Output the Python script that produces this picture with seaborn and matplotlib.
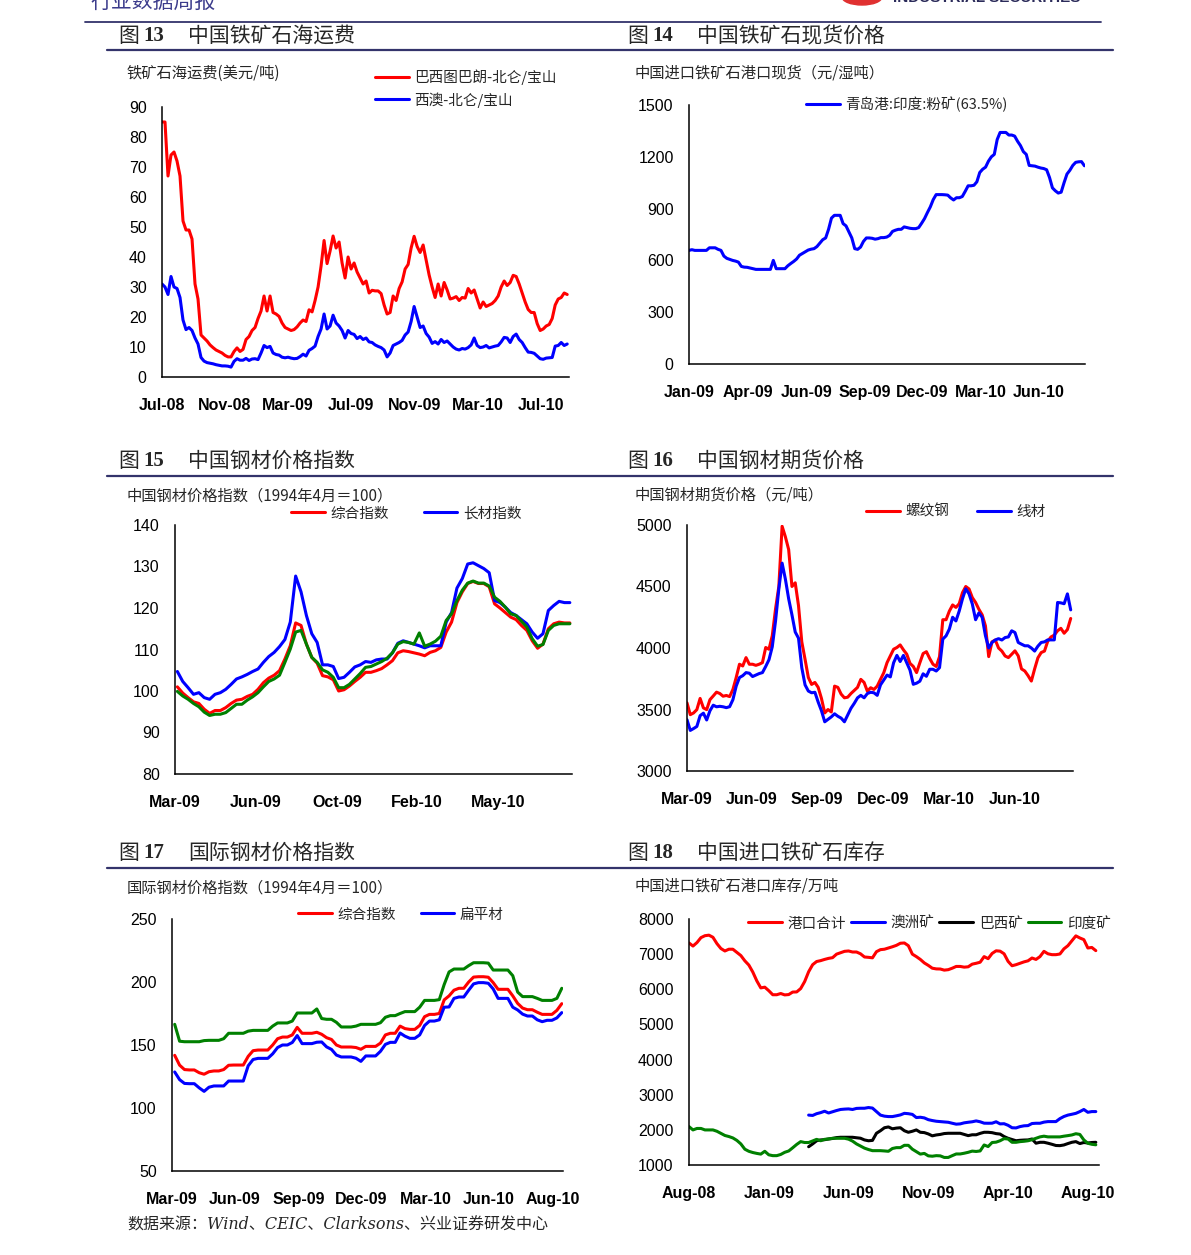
import numpy as np
import matplotlib
matplotlib.use("Agg")
import matplotlib.pyplot as plt
from matplotlib.lines import Line2D
from matplotlib.patches import Ellipse
import seaborn as sns

# ---------------- data ----------------
# fig 13: iron ore freight, USD/t
freight_brazil = [85, 85, 67, 74, 75, 72, 67, 52, 49, 49,
                  46, 31, 26, 14, 13, 12, 10.7, 9.8, 9, 8.5,
                  8, 7.2, 6.7, 6.7, 8.5, 9.7, 8.5, 9.2, 12.5, 13.5,
                  15.5, 16.5, 19.5, 22, 27, 22, 27, 21.5, 21, 20.2,
                  18, 16.5, 16, 15.5, 15.8, 16.7, 18, 19, 18.5, 22.4,
                  21.7, 25.5, 30, 37, 45.5, 37.8, 42, 47, 43, 45,
                  38, 33, 40, 36, 38, 35, 33, 31, 32, 28,
                  28.9, 28.7, 28.7, 27.8, 24, 21, 21.5, 27, 25.5, 29.5,
                  31.7, 36, 37.5, 43, 46.9, 43.5, 41.5, 44, 39, 34,
                  30, 26.5, 31, 27, 31.5, 29, 26, 26.3, 26.8, 25.5,
                  26.5, 26.3, 29.5, 28, 29, 26, 23, 25, 23.5, 24,
                  24.5, 25.5, 27, 30, 32, 30.5, 31.5, 33.9, 33.5, 31,
                  28, 25, 22.5, 21.5, 21.5, 17.8, 15.5, 16, 17, 17.5,
                  19.5, 24, 26, 26.5, 28, 27.5]
freight_wa = [31, 30, 27.5, 33.5, 30, 29.5, 26.5, 19, 15.8, 16.5,
              15.5, 13, 11, 6.5, 5.3, 4.8, 4.6, 4.4, 4.1, 3.9,
              3.7, 3.7, 3.6, 3.3, 5.2, 6.1, 5.6, 5.6, 6.2, 5.5,
              6, 6.1, 5.8, 8, 10.5, 9.8, 10.2, 8, 7.5, 7.3,
              6.6, 6.4, 6.6, 6.3, 6.1, 6.2, 6.8, 7.6, 7, 8.9,
              9.5, 10.3, 13.5, 16, 21, 16, 17, 20.6, 18, 17,
              15.5, 13, 15.5, 14.5, 14.2, 12.8, 13.5, 12.5, 13, 11.7,
              11.5, 10.7, 10.2, 9.8, 9, 6.7, 8, 10.5, 11, 11.5,
              12.2, 14, 15, 18.5, 23.5, 20, 16.5, 17, 14.5, 13.3,
              11.2, 11.8, 11, 12.5, 11.5, 12, 11, 10, 9.3, 9,
              9.5, 9.3, 9.8, 10.7, 13, 10.5, 9.8, 10, 10.5, 9.7,
              10, 10.3, 10.5, 11.7, 13.2, 13, 11.5, 13.5, 14.3, 12.5,
              11.5, 9.8, 8.3, 8.2, 7.9, 7, 6.1, 5.9, 6.3, 6.4,
              6.5, 10.3, 10.5, 11.5, 10.5, 11]
freight_ticks = [0, 20.9, 42, 63.1, 84, 105.1, 126.2]
freight_labels = ["Jul-08", "Nov-08", "Mar-09", "Jul-09", "Nov-09", "Mar-10", "Jul-10"]

# fig 14: Qingdao port, Indian fines 63.5%, yuan/wet t
spot_india = [658, 662, 658, 658, 658, 658, 658, 673, 673, 673,
              664, 658, 625, 612, 606, 600, 596, 590, 565, 561,
              560, 556, 552, 548, 548, 548, 548, 548, 548, 600,
              552, 552, 552, 552, 569, 582, 594, 608, 630, 640,
              650, 660, 665, 668, 680, 700, 720, 730, 780, 845,
              861, 861, 861, 813, 800, 765, 730, 668, 664, 677,
              710, 730, 730, 728, 723, 726, 732, 732, 735, 745,
              768, 775, 780, 780, 794, 790, 786, 784, 784, 790,
              815, 842, 877, 910, 952, 981, 981, 981, 980, 978,
              962, 950, 963, 963, 970, 1000, 1032, 1032, 1035, 1055,
              1109, 1128, 1140, 1175, 1200, 1214, 1300, 1341, 1341, 1341,
              1326, 1326, 1320, 1290, 1265, 1230, 1214, 1150, 1148, 1146,
              1140, 1135, 1132, 1125, 1080, 1020, 1003, 990, 995, 1050,
              1100, 1122, 1150, 1168, 1171, 1172, 1148]
spot_ticks = [0, 20.3, 40.3, 60.3, 80.3, 100.2, 120.3]
spot_labels = ["Jan-09", "Apr-09", "Jun-09", "Sep-09", "Dec-09", "Mar-10", "Jun-10"]

# fig 15: China steel price index
cn_composite = [101, 99.5, 98.4, 97.4, 97, 95.6, 94.6, 95.3, 95.3, 96,
                97, 97.8, 98, 98.7, 99.2, 100.4, 102, 103.1, 103.8, 104.9,
                107.7, 110.9, 116.4, 115.8, 111.3, 108.1, 106.7, 103.7, 103.4, 102.7,
                100, 100.3, 101.2, 102.3, 103.3, 104.5, 104.5, 104.9, 105.4, 106.3,
                107.3, 109.2, 109.7, 109.5, 109.2, 108.9, 108.5, 109.3, 109.7, 110.5,
                114.2, 116.6, 121.3, 123.9, 125.9, 126.4, 125.9, 125.9, 125.1, 121,
                120, 118.9, 117.8, 117.2, 115.8, 114.6, 112.1, 110.3, 111.3, 115,
                116.2, 116.6, 116.4, 116.4]
cn_long = [104.7, 102.3, 100.8, 99.2, 99.6, 98.4, 98, 99.2, 99.6, 100.4,
           101.6, 102.9, 103.4, 104, 104.7, 105.3, 106.9, 108.3, 109.3, 110.7,
           112.4, 116.6, 127.7, 123.9, 118.2, 113.8, 111.7, 106.3, 106.3, 105.9,
           103, 103.3, 104.5, 105.8, 106.3, 107.1, 106.9, 107.5, 107.7, 107.7,
           109.2, 111.5, 112.1, 111.7, 111.3, 110.9, 110.4, 110.9, 110.9, 110.9,
           116.6, 118.9, 124.8, 127.1, 130.6, 130.9, 130.2, 129.5, 128.5, 121.8,
           121.3, 120.2, 118.9, 118.2, 117.2, 116.2, 114.2, 112.7, 113.8, 119.4,
           120.6, 121.6, 121.3, 121.3]
cn_flat = [99.9, 98.8, 98, 97, 96.2, 94.9, 94.1, 94.4, 94.4, 94.8,
           95.8, 96.8, 96.8, 97.8, 98.6, 99.6, 101, 102.3, 102.9, 103.8,
           106.9, 110.1, 114.2, 114.6, 111.3, 108.1, 106.9, 105.1, 104.5, 103.3,
           100.8, 100.8, 101.6, 102.9, 104.2, 105.7, 105.9, 106.5, 107.1, 107.9,
           109.2, 111.3, 111.9, 111.7, 111.3, 114, 110.8, 111.3, 112, 113.2,
           117, 118.6, 121.8, 124.3, 126, 126.5, 126, 126, 125.3, 122.6,
           121.6, 120.2, 118.6, 118.2, 116.8, 115.4, 112.6, 110.8, 111.2, 114.6,
           115.8, 116.2, 116.2, 116.2]
cn_ticks = [-0.44, 14.56, 29.69, 44.56, 59.69]
cn_labels = ["Mar-09", "Jun-09", "Oct-09", "Feb-10", "May-10"]

# fig 16: steel futures, yuan/t
fut_rebar = [3554, 3458, 3472, 3499, 3590, 3513, 3499, 3580, 3610, 3641,
             3630, 3608, 3614, 3605, 3663, 3760, 3868, 3854, 3922, 3868,
             3868, 3859, 3868, 3881, 4004, 3990, 4100, 4318, 4500, 4990,
             4904, 4800, 4500, 4530, 4345, 4050, 3908, 3760, 3704, 3720,
             3680, 3590, 3472, 3500, 3480, 3690, 3680, 3625, 3595, 3600,
             3630, 3655, 3680, 3745, 3720, 3649, 3677, 3663, 3690, 3745,
             3799, 3881, 3936, 3990, 4004, 4025, 3985, 3950, 3875, 3850,
             3800, 3880, 3955, 3970, 3915, 3868, 3850, 3930, 4230, 4230,
             4300, 4350, 4330, 4360, 4450, 4500, 4480, 4410, 4370, 4315,
             4270, 4180, 3930, 4050, 4065, 4000, 3975, 3935, 3922, 3949,
             3977, 3936, 3830, 3813, 3775, 3731, 3830, 3920, 3963, 3975,
             4055, 4090, 4105, 4140, 4160, 4120, 4150, 4240]
fut_wire = [3417, 3330, 3345, 3362, 3450, 3470, 3415, 3490, 3535, 3522,
            3526, 3522, 3515, 3523, 3580, 3690, 3760, 3775, 3800, 3795,
            3768, 3780, 3792, 3800, 3850, 3905, 4010, 4220, 4480, 4690,
            4560, 4400, 4270, 4130, 4080, 3840, 3700, 3650, 3636, 3640,
            3560, 3490, 3400, 3420, 3440, 3465, 3445, 3430, 3400, 3455,
            3510, 3550, 3595, 3615, 3595, 3630, 3640, 3636, 3615, 3700,
            3740, 3780, 3765, 3880, 3940, 3890, 3940, 3880, 3820, 3705,
            3714, 3730, 3790, 3770, 3827, 3827, 3813, 3840, 4072, 4099,
            4154, 4250, 4220, 4300, 4400, 4481, 4440, 4358, 4230, 4285,
            4250, 4100, 4000, 4045, 4065, 4076, 4065, 4085, 4090, 4140,
            4126, 4045, 4031, 4018, 4018, 4000, 3975, 4015, 4045, 4050,
            4066, 4066, 4066, 4370, 4367, 4360, 4440, 4310]
fut_ticks = [0, 19.8, 39.7, 59.8, 79.8, 99.8]
fut_labels = ["Mar-09", "Jun-09", "Sep-09", "Dec-09", "Mar-10", "Jun-10"]

# fig 17: international steel price index
intl_composite = [141.8, 134, 130.5, 130.2, 130.2, 128, 126.8, 128.8, 129.4, 129.4,
                  130.5, 133.9, 134.1, 134.1, 134.1, 141, 145.5, 146, 146, 146,
                  150, 155, 156.3, 156.3, 158, 164, 159.3, 159.3, 159.3, 160.1,
                  158.5, 155.8, 154.4, 150, 148.4, 148.4, 148.4, 148, 146.6, 148.9,
                  148.9, 148.9, 151.5, 158, 159.3, 159.3, 165, 163, 162.4, 162.4,
                  165.5, 172.5, 174.3, 174.3, 175, 185.8, 189, 193.5, 195, 195,
                  200, 203.9, 204.2, 204.2, 203.8, 199.5, 194.2, 194.2, 194.2, 189,
                  183, 179.3, 178, 178, 176, 174.3, 174.3, 174.3, 177.5, 182.8]
intl_flat = [128.6, 122.5, 119.5, 119.3, 119.3, 116, 113.2, 116.5, 117.5, 117.5,
             117.5, 121.4, 121.4, 121.4, 121.4, 133.5, 138.5, 139.4, 139.4, 139.4,
             143, 148, 150, 150, 152, 157.5, 151.1, 151.1, 151.1, 152.2,
             152.4, 148.5, 146.5, 142, 140.5, 140.5, 140.5, 139.5, 137, 141.3,
             141.3, 141.3, 145, 150.5, 152.1, 152.1, 159.5, 157, 155.3, 155.3,
             158, 165.5, 169, 169, 170, 180, 180.2, 187, 188.1, 188.1,
             193.5, 198.5, 199.5, 199.5, 199, 194.5, 187, 187, 187, 180,
             177.8, 174.5, 173, 173, 170, 168.5, 169.6, 169.6, 171.5, 175.7]
intl_long = [166.4, 153, 152.6, 152.6, 152.6, 152.6, 153.5, 153.7, 153.7, 153.7,
             155, 159.3, 159.3, 159.3, 159.3, 161, 161.6, 161.6, 161.6, 161.6,
             165, 167.5, 167.5, 167.5, 169, 175.4, 175.4, 175.4, 175.4, 178.6,
             171, 170.4, 170.4, 168, 164.3, 164.3, 164.3, 165, 166.4, 166.4,
             166.4, 166.4, 167.7, 172, 173.3, 173.3, 175, 176.5, 176.5, 176.5,
             180, 185.4, 185.4, 185.4, 186, 198, 208, 210.3, 210.3, 210.3,
             213, 215.3, 215.3, 215.3, 215, 209.5, 209.5, 209.5, 209.5, 205,
             192, 188.4, 188.4, 188.4, 187, 185.4, 185.4, 185.4, 187, 195]
intl_ticks = [-0.55, 12.26, 25.27, 38.15, 51.16, 64.04, 77.19]
intl_labels = ["Mar-09", "Jun-09", "Sep-09", "Dec-09", "Mar-10", "Jun-10", "Aug-10"]

# fig 18: imported iron ore port stocks, 10k t
stock_total = [7318, 7230, 7330, 7470, 7525, 7540, 7480, 7300, 7160, 7090,
               7140, 7140, 7050, 6960, 6810, 6690, 6490, 6240, 6040, 6060,
               5960, 5845, 5845, 5880, 5840, 5850, 5921, 5925, 6020, 6220,
               6500, 6700, 6790, 6815, 6850, 6880, 6900, 7000, 7040, 7080,
               7090, 7061, 7061, 7010, 6919, 6909, 6895, 7070, 7128, 7140,
               7175, 7210, 7250, 7310, 7318, 7240, 7000, 6930, 6850, 6750,
               6680, 6600, 6580, 6577, 6545, 6558, 6600, 6650, 6650, 6630,
               6640, 6715, 6740, 6770, 6930, 6871, 7020, 7095, 7085, 7010,
               6795, 6670, 6700, 6740, 6780, 6810, 6890, 6850, 6930, 7080,
               7010, 6985, 6985, 7004, 7150, 7240, 7380, 7520, 7460, 7413,
               7175, 7190, 7100]
stock_aus = [2420, 2410, 2460, 2490, 2530, 2480, 2515, 2550, 2580, 2590,
             2596, 2580, 2610, 2615, 2615, 2635, 2620, 2520, 2420, 2390,
             2378, 2378, 2400, 2425, 2470, 2460, 2440, 2350, 2359, 2340,
             2290, 2265, 2245, 2235, 2225, 2216, 2188, 2162, 2170, 2200,
             2216, 2230, 2254, 2230, 2190, 2188, 2190, 2230, 2170, 2175,
             2130, 2060, 2055, 2093, 2115, 2121, 2180, 2188, 2188, 2220,
             2235, 2235, 2235, 2320, 2380, 2420, 2444, 2470, 2520, 2580,
             2500, 2520, 2520]
stock_bra = [1520, 1600, 1690, 1713, 1720, 1741, 1755, 1780, 1789, 1789,
             1789, 1789, 1775, 1762, 1713, 1690, 1700, 1903, 1975, 2060,
             2083, 2030, 2050, 2060, 1975, 1931, 1960, 1998, 1931, 1922,
             1884, 1830, 1855, 1870, 1895, 1903, 1903, 1903, 1903, 1870,
             1836, 1860, 1860, 1900, 1931, 1931, 1920, 1893, 1880, 1810,
             1760, 1725, 1690, 1703, 1710, 1713, 1740, 1620, 1646, 1646,
             1620, 1589, 1555, 1551, 1570, 1610, 1646, 1665, 1610, 1640,
             1627, 1640, 1646]
stock_ind = [2092, 1998, 2040, 2040, 1998, 1998, 1998, 1960, 1900, 1840,
             1810, 1770, 1700, 1600, 1450, 1390, 1355, 1330, 1310, 1390,
             1290, 1266, 1266, 1300, 1361, 1399, 1490, 1585, 1665, 1640,
             1640, 1684, 1730, 1690, 1730, 1740, 1760, 1760, 1760, 1760,
             1735, 1680, 1600, 1540, 1480, 1440, 1408, 1408, 1408, 1400,
             1390, 1470, 1494, 1494, 1560, 1560, 1450, 1380, 1310, 1330,
             1260, 1250, 1266, 1260, 1215, 1215, 1266, 1314, 1314, 1335,
             1361, 1395, 1385, 1400, 1570, 1525, 1640, 1650, 1690, 1750,
             1740, 1646, 1646, 1665, 1675, 1690, 1720, 1760, 1800, 1820,
             1800, 1800, 1800, 1800, 1820, 1836, 1855, 1890, 1870, 1713,
             1618, 1589, 1575]
stock_start_partial = 30  # Australia / Brazil series start later
stock_ticks = [0, 20.07, 40.1, 59.95, 80, 100.1]
stock_labels = ["Aug-08", "Jan-09", "Jun-09", "Nov-09", "Apr-10", "Aug-10"]

# ---------------- drawing ----------------
sns.set_theme(style="white")
plt.rcParams["font.family"] = ["Liberation Sans", "Noto Sans CJK SC", "DejaVu Sans"]
plt.rcParams["axes.unicode_minus"] = False
CJK = ["Noto Sans CJK SC", "DejaVu Sans"]

W, H = 1191, 1255
fig = plt.figure(figsize=(W / 100, H / 100), dpi=100)
fig.patch.set_facecolor("white")
RED, BLUE, GREEN, BLACK = "#ff0000", "#0000ff", "#008000", "#000000"
NAVY = "#33336b"
LW = 2.2


def fx(x):
    return x / W


def fy(y):
    return 1 - y / H


def px_axes(left, top, right, bottom):
    return fig.add_axes([fx(left), fy(bottom), (right - left) / W, (bottom - top) / H])


def style_axes(ax, ylim, ystep, xlim, xticks, xlabels):
    ax.set_xlim(*xlim)
    ax.set_ylim(*ylim)
    ax.set_yticks(np.arange(ylim[0], ylim[1] + ystep / 2, ystep))
    ax.set_xticks(xticks)
    ax.set_xticklabels(xlabels, fontweight="bold")
    ax.tick_params(direction="in", length=4, width=1, colors="black", labelsize=11.5)
    ax.tick_params(axis="x", pad=15)
    ax.tick_params(axis="y", pad=11)
    for s in ["top", "right"]:
        ax.spines[s].set_visible(False)
    for s in ["left", "bottom"]:
        ax.spines[s].set_linewidth(1.1)
        ax.spines[s].set_color("black")
    ax.set_xlabel("")
    ax.set_ylabel("")
    ax.grid(False)
    ax.patch.set_alpha(0)


def line(ax, values, color, start=0):
    x = np.arange(start, start + len(values))
    sns.lineplot(x=x, y=values, color=color, linewidth=LW, ax=ax)
    return ax.get_lines()[-1]


def legend(ax, handles, labels, x, yc, ncol, colsp=1.0, lsp=0.2):
    ax.legend(handles, labels, loc="upper left",
              bbox_to_anchor=(fx(x), fy(yc - 5.5)), bbox_transform=fig.transFigure,
              ncol=ncol, frameon=False, prop={"family": CJK, "size": 10.5},
              handlelength=2.3, handletextpad=0.4, columnspacing=colsp,
              borderpad=0, borderaxespad=0, labelspacing=lsp)


def title(x, y, num, name):
    fig.text(fx(x), fy(y), "图", family=CJK, fontsize=15, va="center", ha="left")
    fig.text(fx(x + 25), fy(y), num, family=["Liberation Serif"], fontweight="bold",
             fontsize=15, va="center", ha="left")
    fig.text(fx(x + 70), fy(y), name, family=CJK, fontsize=15, va="center", ha="left")


def unit(x, y, s):
    fig.text(fx(x), fy(y), s, family=CJK, fontsize=11, va="center", ha="left")


# page header remnants
fig.text(fx(90), fy(2), "行业数据周报", family=CJK, fontsize=15, color="#3c3c8c",
         va="center", ha="left")
fig.text(fx(893), fy(-2), "INDUSTRIAL SECURITIES", fontsize=11, fontweight="bold",
         color="#2b2b5a", va="center", ha="left")
fig.add_artist(Ellipse((fx(862), fy(-3)), 40 / W, 16 / H, color="#e03030"))
fig.add_artist(Line2D([fx(85), fx(1101)], [fy(22), fy(22)], color=NAVY, lw=1.3))

# row separators and titles
for yl in (50, 476, 868):
    fig.add_artist(Line2D([fx(107), fx(1113)], [fy(yl), fy(yl)], color=NAVY, lw=1.6))
title(118, 36, "13", "中国铁矿石海运费")
title(627, 36, "14", "中国铁矿石现货价格")
title(118, 461, "15", "中国钢材价格指数")
title(627, 461, "16", "中国钢材期货价格")
title(118, 853, "17", "国际钢材价格指数")
title(627, 853, "18", "中国进口铁矿石库存")

# ---- fig 13
ax = px_axes(162, 107, 569, 377)
h1 = line(ax, freight_brazil, RED)
h2 = line(ax, freight_wa, BLUE)
style_axes(ax, (0, 90), 10, (0, 135.6), freight_ticks, freight_labels)
legend(ax, [h1, h2], ["巴西图巴朗-北仑/宝山", "西澳-北仑/宝山"], 375, 75, 1, lsp=0.47)
unit(127, 73, "铁矿石海运费(美元/吨)")

# ---- fig 14
ax = px_axes(689, 105, 1085, 364)
h1 = line(ax, spot_india, BLUE)
style_axes(ax, (0, 1500), 300, (0, 136.2), spot_ticks, spot_labels)
legend(ax, [h1], ["青岛港:印度:粉矿(63.5%)"], 806, 102, 1)
unit(635, 73, "中国进口铁矿石港口现货（元/湿吨）")

# ---- fig 15
ax = px_axes(175, 525, 572, 774)
h1 = line(ax, cn_composite, RED)
h2 = line(ax, cn_long, BLUE)
line(ax, cn_flat, GREEN)
style_axes(ax, (80, 140), 10, (-0.44, 73.4), cn_ticks, cn_labels)
legend(ax, [h1, h2], ["综合指数", "长材指数"], 291, 512, 2, colsp=2.4)
unit(127, 496, "中国钢材价格指数（1994年4月＝100）")

# ---- fig 16
ax = px_axes(687, 525, 1073, 771)
h1 = line(ax, fut_rebar, RED)
h2 = line(ax, fut_wire, BLUE)
style_axes(ax, (3000, 5000), 500, (0, 117.7), fut_ticks, fut_labels)
legend(ax, [h1, h2], ["螺纹钢", "线材"], 866, 510, 2, colsp=1.9)
unit(635, 495, "中国钢材期货价格（元/吨）")

# ---- fig 17
ax = px_axes(172, 919, 563, 1171)
h1 = line(ax, intl_composite, RED)
h2 = line(ax, intl_flat, BLUE)
line(ax, intl_long, GREEN)
style_axes(ax, (50, 250), 50, (-0.55, 79.25), intl_ticks, intl_labels)
legend(ax, [h1, h2], ["综合指数", "扁平材"], 298, 913, 2, colsp=1.7)
unit(127, 888, "国际钢材价格指数（1994年4月＝100）")

# ---- fig 18
ax = px_axes(689, 919, 1099, 1165)
h1 = line(ax, stock_total, RED)
h2 = line(ax, stock_aus, BLUE, start=stock_start_partial)
h3 = line(ax, stock_bra, BLACK, start=stock_start_partial)
h4 = line(ax, stock_ind, GREEN)
style_axes(ax, (1000, 8000), 1000, (0, 102.8), stock_ticks, stock_labels)
legend(ax, [h1, h2, h3, h4], ["港口合计", "澳洲矿", "巴西矿", "印度矿"], 748, 922, 4, colsp=0.35)
unit(635, 886, "中国进口铁矿石港口库存/万吨")

# source note
fig.text(fx(127), fy(1225), "数据来源：Wind、CEIC、Clarksons、兴业证券研发中心",
         family=["DejaVu Serif", "Noto Sans CJK SC"], style="italic", fontsize=11.5,
         va="center", ha="left")

fig.savefig("out.png", dpi=100, facecolor="white")
